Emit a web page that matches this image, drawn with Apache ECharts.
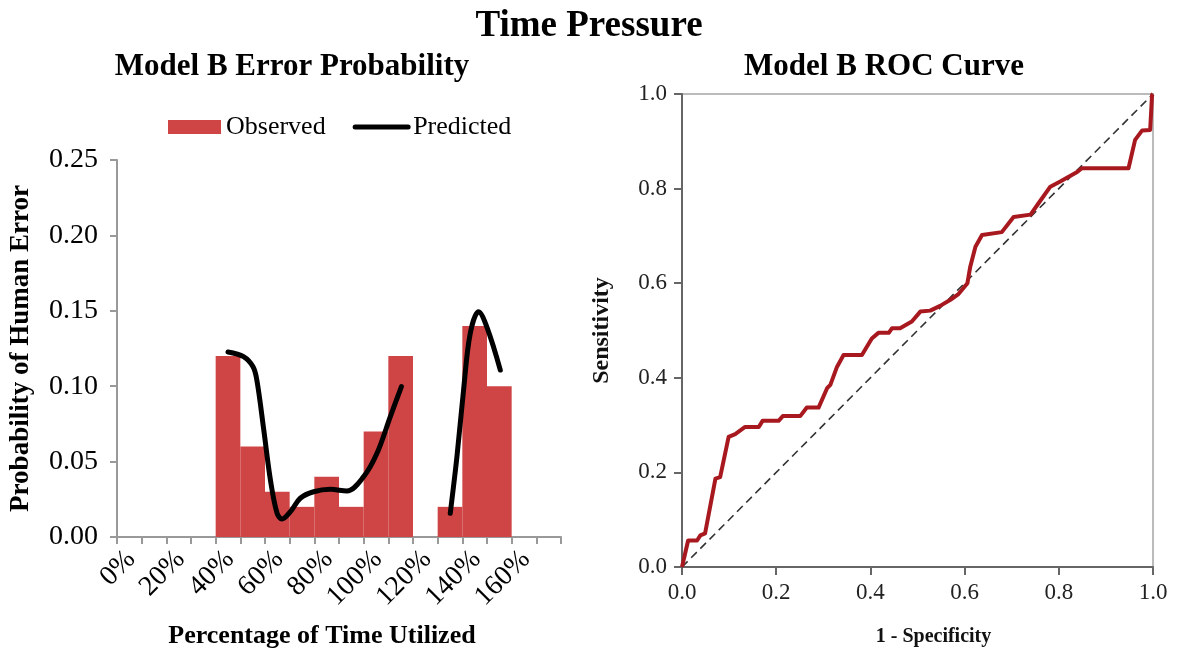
<!DOCTYPE html>
<html>
<head>
<meta charset="utf-8">
<script src="https://cdn.jsdelivr.net/npm/echarts@6/dist/echarts.min.js"></script>
<style>
html,body{margin:0;padding:0;background:#fff;}
#chart{width:1179px;height:654px;}
</style>
</head>
<body>
<div id="chart"></div>
<script>
// ---- Left chart: Model B Error Probability ----
var binStart = [40, 50, 60, 70, 80, 90, 100, 110, 120, 130, 140, 150];
var binWidth = 10;
var observed = [0.12, 0.06, 0.03, 0.02, 0.04, 0.02, 0.07, 0.12, 0, 0.02, 0.14, 0.10];

var predX1 = [45, 51.3, 55.1, 56.7, 59.5, 62.2, 64.9, 66.9, 70.3, 74.3, 79.7, 86.5, 93.2, 100, 105.4, 110.8, 115.3];
var predY1 = [0.1227, 0.1196, 0.113, 0.104, 0.071, 0.0378, 0.0157, 0.0119, 0.0168, 0.0257, 0.030, 0.0316, 0.0305, 0.040, 0.0555, 0.0798, 0.0997];
var predX2 = [135.1, 137.8, 140.5, 143.2, 146.6, 150, 155.4];
var predY2 = [0.0157, 0.053, 0.0975, 0.135, 0.1494, 0.139, 0.1107];

var leftYTicks = [0, 0.05, 0.10, 0.15, 0.20, 0.25];
var leftXLabelValues = [0, 20, 40, 60, 80, 100, 120, 140, 160];

// ---- Right chart: Model B ROC Curve ----
var rocFpr = [0, 0.013, 0.032, 0.039, 0.049, 0.071, 0.081, 0.099, 0.113, 0.134, 0.163, 0.171, 0.205, 0.214, 0.251, 0.265, 0.29, 0.308, 0.315, 0.329, 0.343, 0.382, 0.403, 0.417, 0.439, 0.446, 0.463, 0.488, 0.506, 0.527, 0.548, 0.57, 0.587, 0.606, 0.612, 0.623, 0.637, 0.679, 0.704, 0.74, 0.757, 0.782, 0.803, 0.839, 0.849, 0.948, 0.962, 0.977, 0.994, 0.998, 1];
var rocTpr = [0, 0.056, 0.056, 0.067, 0.071, 0.187, 0.19, 0.275, 0.281, 0.296, 0.296, 0.309, 0.309, 0.319, 0.319, 0.337, 0.337, 0.378, 0.385, 0.423, 0.448, 0.448, 0.483, 0.495, 0.495, 0.505, 0.505, 0.519, 0.54, 0.542, 0.552, 0.565, 0.577, 0.6, 0.635, 0.677, 0.702, 0.708, 0.74, 0.745, 0.769, 0.804, 0.815, 0.835, 0.843, 0.843, 0.903, 0.923, 0.924, 0.998, 1];
var diagX = [0, 1];
var diagY = [0, 1];

var SERIF = '"Liberation Serif", "Times New Roman", serif';

function zip(a, b) { return a.map(function (v, i) { return [v, b[i]]; }); }
var barData = binStart.map(function (s, i) { return [s, s + binWidth, observed[i]]; });

var chart = echarts.init(document.getElementById('chart'));
var option = {
  backgroundColor: '#fff',
  animation: false,
  graphic: [
    { type: 'text', x: 589, y: 8, style: { text: 'Time Pressure', align: 'center', verticalAlign: 'top', textAlign: 'center', textVerticalAlign: 'top', font: 'bold 37px ' + SERIF, fill: '#000' } },
    { type: 'text', x: 292, y: 51, style: { text: 'Model B Error Probability', align: 'center', verticalAlign: 'top', textAlign: 'center', textVerticalAlign: 'top', font: 'bold 31px ' + SERIF, fill: '#000' } },
    { type: 'text', x: 884, y: 51, style: { text: 'Model B ROC Curve', align: 'center', verticalAlign: 'top', textAlign: 'center', textVerticalAlign: 'top', font: 'bold 31px ' + SERIF, fill: '#000' } }
  ],
  legend: {
    left: 163, top: 109,
    itemWidth: 53, itemHeight: 14, itemGap: 27,
    textStyle: { fontFamily: SERIF, fontSize: 26, color: '#000' },
    data: [
      { name: 'Observed', icon: 'rect' },
      { name: 'Predicted', itemStyle: { opacity: 0 }, lineStyle: { width: 5, color: '#000', cap: 'round' } }
    ]
  },
  grid: [
    { left: 117, top: 160, width: 444, height: 377, show: false },
    { left: 682, top: 94, width: 471, height: 473, show: true, borderColor: '#bbb', borderWidth: 2 }
  ],
  xAxis: [
    {
      gridIndex: 0, type: 'value', min: 0, max: 180, interval: 10,
      name: 'Percentage of Time Utilized', nameLocation: 'middle', nameGap: 86,
      nameTextStyle: { fontFamily: SERIF, fontSize: 26, fontWeight: 'bold', color: '#000', padding: [0, 34, 0, 0] },
      axisLine: { show: true, onZero: false, lineStyle: { color: '#999', width: 2 } },
      axisTick: { show: true, length: 7, lineStyle: { color: '#999', width: 2 } },
      axisLabel: {
        rotate: 45, margin: 4, verticalAlign: 'top', lineHeight: 40, fontFamily: SERIF, fontSize: 28, color: '#000', hideOverlap: false, showMaxLabel: true, showMinLabel: true,
        formatter: function (v) { return leftXLabelValues.indexOf(v) >= 0 ? v + '%' : ''; }
      },
      splitLine: { show: false }
    },
    {
      gridIndex: 1, type: 'value', min: 0, max: 1, interval: 0.2,
      name: '1 - Specificity', nameLocation: 'middle', nameGap: 60,
      nameTextStyle: { fontFamily: SERIF, fontSize: 20, fontWeight: 'bold', color: '#111', padding: [0, 0, 0, 32] },
      axisLine: { show: true, onZero: false, lineStyle: { color: '#666', width: 2 } },
      axisTick: { show: true, length: 8, lineStyle: { color: '#666', width: 2 } },
      axisLabel: { margin: 14, fontFamily: SERIF, fontSize: 23, color: '#222', formatter: function (v) { return v.toFixed(1); } },
      splitLine: { show: false }
    }
  ],
  yAxis: [
    {
      gridIndex: 0, type: 'value', min: 0, max: 0.25, interval: 0.05,
      name: 'Probability of Human Error', nameLocation: 'middle', nameGap: 82,
      nameTextStyle: { fontFamily: SERIF, fontSize: 27, fontWeight: 'bold', color: '#000' },
      axisLine: { show: true, lineStyle: { color: '#999', width: 2 } },
      axisTick: { show: true, length: 7, lineStyle: { color: '#999', width: 2 } },
      axisLabel: { margin: 19, fontFamily: SERIF, fontSize: 28, color: '#000', formatter: function (v) { return v.toFixed(2); } },
      splitLine: { show: false }
    },
    {
      gridIndex: 1, type: 'value', min: 0, max: 1, interval: 0.2,
      name: 'Sensitivity', nameLocation: 'middle', nameGap: 68,
      nameTextStyle: { fontFamily: SERIF, fontSize: 24, fontWeight: 'bold', color: '#111' },
      axisLine: { show: true, lineStyle: { color: '#666', width: 2 } },
      axisTick: { show: true, length: 8, lineStyle: { color: '#666', width: 2 } },
      axisLabel: { margin: 15, fontFamily: SERIF, fontSize: 23, color: '#222', formatter: function (v) { return v.toFixed(1); } },
      splitLine: { show: false }
    }
  ],
  series: [
    {
      name: 'Observed', type: 'custom', xAxisIndex: 0, yAxisIndex: 0,
      itemStyle: { color: '#cf4444' },
      encode: { x: [0, 1], y: 2 },
      data: barData,
      renderItem: function (params, api) {
        var x0 = api.value(0), x1 = api.value(1), v = api.value(2);
        var p0 = api.coord([x0, v]);
        var p1 = api.coord([x1, 0]);
        return { type: 'rect', shape: { x: p0[0], y: p0[1], width: p1[0] - p0[0], height: p1[1] - p0[1] }, style: { fill: '#cf4444' } };
      }
    },
    {
      name: 'Predicted', type: 'line', xAxisIndex: 0, yAxisIndex: 0, smooth: 0.35, symbol: 'none',
      itemStyle: { color: '#000' },
      lineStyle: { color: '#000', width: 5, cap: 'round', join: 'round' },
      data: zip(predX1, predY1), z: 5
    },
    {
      name: 'Predicted', type: 'line', xAxisIndex: 0, yAxisIndex: 0, smooth: 0.35, symbol: 'none',
      itemStyle: { color: '#000' },
      lineStyle: { color: '#000', width: 5, cap: 'round', join: 'round' },
      data: zip(predX2, predY2), z: 5
    },
    {
      name: 'Reference', type: 'line', xAxisIndex: 1, yAxisIndex: 1, symbol: 'none',
      lineStyle: { color: '#333', width: 1.6, type: [8, 5] },
      data: zip(diagX, diagY), z: 3
    },
    {
      name: 'ROC', type: 'line', xAxisIndex: 1, yAxisIndex: 1, symbol: 'none',
      lineStyle: { color: '#a8191f', width: 4, join: 'round' },
      data: zip(rocFpr, rocTpr), z: 4
    }
  ]
};
chart.setOption(option);
</script>
</body>
</html>
